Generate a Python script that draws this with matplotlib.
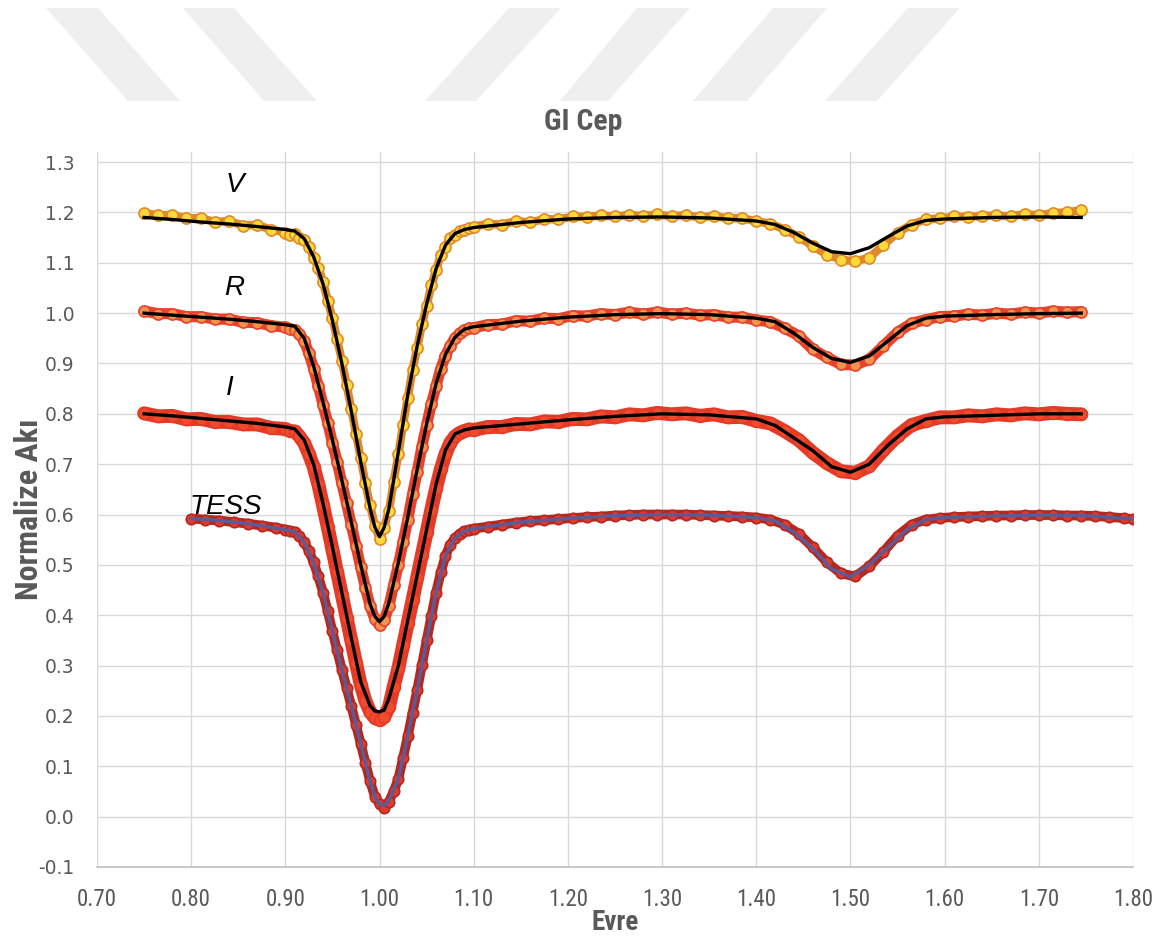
import matplotlib
matplotlib.use("Agg")
import matplotlib.pyplot as plt
from matplotlib import font_manager
from matplotlib.patches import Polygon
import numpy as np

# --- model light curves (V, R, I share one phase grid) ---
model_phase = [0.75, 0.78, 0.81, 0.84, 0.87, 0.90, 0.91, 0.92, 0.93, 0.94, 0.95, 0.96,
               0.97, 0.98, 0.99, 0.995, 1.00, 1.005, 1.01, 1.02, 1.03, 1.04, 1.05, 1.06,
               1.07, 1.08, 1.09, 1.10, 1.15, 1.20, 1.25, 1.30, 1.35, 1.40, 1.42, 1.44,
               1.46, 1.48, 1.50, 1.52, 1.54, 1.56, 1.58, 1.60, 1.65, 1.70, 1.745]
v_model = [1.190, 1.186, 1.181, 1.177, 1.172, 1.166, 1.163, 1.148, 1.112, 1.058, 0.985, 0.900,
           0.805, 0.705, 0.612, 0.575, 0.556, 0.575, 0.612, 0.725, 0.838, 0.935, 1.018, 1.088,
           1.135, 1.158, 1.166, 1.170, 1.180, 1.187, 1.190, 1.191, 1.189, 1.183, 1.176, 1.160,
           1.139, 1.122, 1.118, 1.130, 1.152, 1.173, 1.184, 1.187, 1.190, 1.191, 1.190]
r_model = [1.000, 0.996, 0.992, 0.988, 0.983, 0.977, 0.974, 0.950, 0.895, 0.823, 0.748, 0.668,
           0.585, 0.500, 0.422, 0.398, 0.387, 0.398, 0.425, 0.505, 0.595, 0.690, 0.780, 0.860,
           0.918, 0.952, 0.968, 0.973, 0.984, 0.992, 0.997, 0.999, 0.997, 0.990, 0.983, 0.960,
           0.932, 0.910, 0.902, 0.915, 0.945, 0.975, 0.990, 0.994, 0.997, 0.999, 1.000]
i_model = [0.800, 0.796, 0.791, 0.786, 0.781, 0.774, 0.770, 0.748, 0.700, 0.622, 0.535, 0.445,
           0.355, 0.268, 0.220, 0.210, 0.208, 0.212, 0.235, 0.300, 0.390, 0.480, 0.570, 0.660,
           0.728, 0.760, 0.768, 0.772, 0.780, 0.788, 0.795, 0.800, 0.798, 0.790, 0.777, 0.752,
           0.727, 0.695, 0.684, 0.700, 0.738, 0.770, 0.790, 0.794, 0.797, 0.800, 0.800]

tess_model_phase = [0.80, 0.83, 0.86, 0.89, 0.91, 0.92, 0.93, 0.94, 0.95, 0.96, 0.97, 0.98,
                    0.99, 0.995, 1.00, 1.005, 1.01, 1.02, 1.03, 1.04, 1.05, 1.06, 1.07, 1.08,
                    1.09, 1.10, 1.15, 1.20, 1.25, 1.30, 1.35, 1.40, 1.42, 1.44, 1.46, 1.48,
                    1.50, 1.52, 1.54, 1.56, 1.58, 1.60, 1.65, 1.70, 1.75, 1.80]
tess_model = [0.592, 0.588, 0.582, 0.573, 0.566, 0.545, 0.505, 0.445, 0.368, 0.292, 0.220, 0.145,
              0.070, 0.040, 0.025, 0.022, 0.032, 0.075, 0.160, 0.252, 0.350, 0.445, 0.518, 0.553,
              0.567, 0.572, 0.585, 0.592, 0.598, 0.600, 0.599, 0.594, 0.587, 0.565, 0.533, 0.492,
              0.476, 0.500, 0.535, 0.570, 0.590, 0.594, 0.597, 0.599, 0.598, 0.591]

# --- observations ---
obs_phase = [0.750, 0.765, 0.780, 0.795, 0.810, 0.825, 0.840, 0.855, 0.870, 0.885, 0.900,
             0.905, 0.910, 0.915, 0.920, 0.925, 0.930, 0.935, 0.940, 0.945, 0.950, 0.955,
             0.960, 0.965, 0.970, 0.975, 0.980, 0.985, 0.990, 0.995, 1.000, 1.005, 1.010,
             1.015, 1.020, 1.025, 1.030, 1.035, 1.040, 1.045, 1.050, 1.055, 1.060, 1.065,
             1.070, 1.075, 1.080, 1.085, 1.090, 1.095,
             1.100, 1.115, 1.130, 1.145, 1.160, 1.175, 1.190, 1.205, 1.220, 1.235, 1.250,
             1.265, 1.280, 1.295, 1.310, 1.325, 1.340, 1.355, 1.370, 1.385, 1.400, 1.415,
             1.430, 1.445, 1.460, 1.475, 1.490, 1.505, 1.520, 1.535, 1.550, 1.565, 1.580,
             1.595, 1.610, 1.625, 1.640, 1.655, 1.670, 1.685, 1.700, 1.715, 1.730, 1.745]
v_obs = [1.199, 1.194, 1.195, 1.188, 1.189, 1.181, 1.183, 1.174, 1.175, 1.166, 1.160,
         1.156, 1.158, 1.150, 1.146, 1.132, 1.110, 1.090, 1.062, 1.025, 0.990, 0.948,
         0.905, 0.858, 0.810, 0.760, 0.712, 0.662, 0.618, 0.578, 0.552, 0.574, 0.608,
         0.665, 0.720, 0.778, 0.832, 0.888, 0.930, 0.978, 1.014, 1.055, 1.085, 1.115,
         1.132, 1.150, 1.156, 1.163, 1.166, 1.170,
         1.172, 1.177, 1.176, 1.183, 1.180, 1.187, 1.186, 1.192, 1.191, 1.194, 1.192,
         1.195, 1.193, 1.196, 1.192, 1.195, 1.190, 1.193, 1.188, 1.189, 1.182, 1.178,
         1.166, 1.152, 1.133, 1.116, 1.106, 1.103, 1.110, 1.135, 1.160, 1.176, 1.186,
         1.188, 1.192, 1.191, 1.193, 1.194, 1.192, 1.197, 1.194, 1.199, 1.200, 1.205]
r_obs = [1.004, 0.999, 0.999, 0.993, 0.993, 0.988, 0.988, 0.982, 0.981, 0.975, 0.972,
         0.968, 0.967, 0.958, 0.945, 0.920, 0.890, 0.855, 0.818, 0.782, 0.742, 0.705,
         0.662, 0.622, 0.580, 0.538, 0.495, 0.455, 0.418, 0.392, 0.380, 0.390, 0.418,
         0.460, 0.500, 0.545, 0.590, 0.640, 0.685, 0.735, 0.778, 0.820, 0.855, 0.890,
         0.915, 0.935, 0.950, 0.960, 0.966, 0.970,
         0.971, 0.977, 0.978, 0.985, 0.984, 0.990, 0.989, 0.995, 0.994, 0.999, 0.997,
         1.002, 0.998, 1.002, 0.998, 1.000, 0.996, 0.997, 0.992, 0.992, 0.986, 0.983,
         0.970, 0.955, 0.928, 0.912, 0.898, 0.897, 0.908, 0.935, 0.962, 0.980, 0.987,
         0.993, 0.994, 0.998, 0.996, 1.000, 0.998, 1.002, 1.000, 1.004, 1.002, 1.003]
i_obs = [0.801, 0.795, 0.796, 0.789, 0.790, 0.784, 0.784, 0.779, 0.779, 0.772, 0.770,
         0.766, 0.765, 0.755, 0.742, 0.720, 0.695, 0.660, 0.618, 0.575, 0.530, 0.485,
         0.440, 0.395, 0.350, 0.305, 0.262, 0.230, 0.208, 0.196, 0.192, 0.198, 0.218,
         0.258, 0.295, 0.340, 0.385, 0.430, 0.475, 0.520, 0.565, 0.610, 0.652, 0.690,
         0.720, 0.742, 0.755, 0.762, 0.766, 0.769,
         0.768, 0.774, 0.774, 0.780, 0.779, 0.785, 0.784, 0.790, 0.789, 0.795, 0.793,
         0.799, 0.797, 0.802, 0.799, 0.801, 0.796, 0.799, 0.793, 0.794, 0.786, 0.781,
         0.766, 0.748, 0.723, 0.702, 0.686, 0.683, 0.696, 0.728, 0.756, 0.778, 0.786,
         0.793, 0.793, 0.797, 0.795, 0.799, 0.797, 0.801, 0.799, 0.802, 0.800, 0.799]

tess_obs_phase = [0.800, 0.815, 0.830, 0.845, 0.860, 0.875, 0.890, 0.900,
                  0.905, 0.910, 0.915, 0.920, 0.925, 0.930, 0.935, 0.940, 0.945, 0.950,
                  0.955, 0.960, 0.965, 0.970, 0.975, 0.980, 0.985, 0.990, 0.995, 1.000,
                  1.005, 1.010, 1.015, 1.020, 1.025, 1.030, 1.035, 1.040, 1.045, 1.050,
                  1.055, 1.060, 1.065, 1.070, 1.075, 1.080, 1.085, 1.090, 1.095,
                  1.100, 1.115, 1.130, 1.145, 1.160, 1.175, 1.190, 1.205, 1.220, 1.235,
                  1.250, 1.265, 1.280, 1.295, 1.310, 1.325, 1.340, 1.355, 1.370, 1.385,
                  1.400, 1.415, 1.430, 1.445, 1.460, 1.475, 1.490, 1.505, 1.520, 1.535,
                  1.550, 1.565, 1.580, 1.595, 1.610, 1.625, 1.640, 1.655, 1.670, 1.685,
                  1.700, 1.715, 1.730, 1.745, 1.760, 1.775, 1.790, 1.800]
tess_obs = [0.592, 0.590, 0.588, 0.585, 0.582, 0.578, 0.574, 0.570,
            0.568, 0.566, 0.558, 0.545, 0.528, 0.505, 0.477, 0.445, 0.408, 0.368,
            0.330, 0.292, 0.256, 0.220, 0.182, 0.145, 0.107, 0.070, 0.040, 0.025,
            0.018, 0.030, 0.050, 0.075, 0.117, 0.160, 0.206, 0.252, 0.301, 0.350,
            0.398, 0.445, 0.485, 0.518, 0.540, 0.553, 0.562, 0.567, 0.570,
            0.572, 0.576, 0.580, 0.584, 0.587, 0.589, 0.591, 0.593, 0.595, 0.596,
            0.598, 0.599, 0.600, 0.600, 0.600, 0.600, 0.599, 0.598, 0.597, 0.596,
            0.594, 0.590, 0.580, 0.562, 0.535, 0.505, 0.483, 0.477, 0.497, 0.526,
            0.558, 0.580, 0.590, 0.593, 0.595, 0.596, 0.597, 0.598, 0.598, 0.599,
            0.599, 0.599, 0.598, 0.598, 0.597, 0.595, 0.593, 0.591]

band_labels = ["V", "R", "I", "TESS"]
label_pos = [(0.846, 1.254), (0.846, 1.050), (0.841, 0.851), (0.837, 0.614)]

GRAY = "#595959"

# pick the narrowest sans family that is actually installed
installed = {f.name for f in font_manager.fontManager.ttflist}
NARROW = next((n for n in ["Liberation Sans Narrow", "DejaVu Sans Condensed", "Roboto Condensed",
                           "Open Sans Condensed", "Lato"] if n in installed), "DejaVu Sans")

W, H = 1163, 942
fig = plt.figure(figsize=(W / 100, H / 100), dpi=100)

# faint diagonal watermark stripes across the top
stripes = [
    [(46, 8), (98, 8), (180, 101), (128, 101)],
    [(183, 8), (234, 8), (317, 101), (264, 101)],
    [(509, 8), (561, 8), (476, 101), (425, 101)],
    [(637, 8), (690, 8), (608, 101), (560, 101)],
    [(773, 8), (827, 8), (747, 101), (693, 101)],
    [(908, 8), (960, 8), (877, 101), (825, 101)],
]
for s in stripes:
    pts = [(x / W, 1 - y / H) for x, y in s]
    fig.patches.append(Polygon(pts, closed=True, transform=fig.transFigure,
                               facecolor="#EFEFEF", edgecolor="none", zorder=0))

ax = fig.add_axes([97 / W, 75 / H, (1133 - 97) / W, (867 - 152) / H])
ax.set_xlim(0.70, 1.80)
ax.set_ylim(-0.1, 1.32)

# (phase, flux, fill, edge, band width, marker size, model phase, model flux, model colour)
series = [
    (obs_phase, v_obs, "#FFD83A", "#E0892A", 6, 8.0, model_phase, v_model, "black"),
    (obs_phase, r_obs, "#F2944E", "#E8432C", 8, 8.0, model_phase, r_model, "black"),
    (obs_phase, i_obs, "#EF4B2C", "#E53A26", 10, 8.5, model_phase, i_model, "black"),
    (tess_obs_phase, tess_obs, "#E03A2A", "#B5281F", 7, 7.5, tess_model_phase, tess_model, "#5A5C99"),
]
for k, (px, py, fc, ec, bw, ms, mx, my, lc) in enumerate(series):
    z = 3 + k
    ax.plot(px, py, color=ec, lw=bw, solid_joinstyle="round", solid_capstyle="round", zorder=z)
    ax.plot(px, py, linestyle="none", marker="o", ms=ms, mfc=fc, mec=ec, mew=1.2, zorder=z)
    ax.plot(mx, my, color=lc, lw=2.4, zorder=10)

for name, (lx, ly) in zip(band_labels, label_pos):
    ax.text(lx, ly, name, fontsize=20, style="italic", family="Liberation Sans",
            ha="center", va="center", color="black", zorder=12)

ax.set_xticks(np.round(np.arange(0.70, 1.801, 0.10), 2))
ax.set_yticks(np.round(np.arange(-0.1, 1.301, 0.1), 1))
ax.set_xticklabels([f"{t:.2f}" for t in ax.get_xticks()], family=NARROW, stretch="condensed",
                   fontsize=16.5, color=GRAY)
ax.set_yticklabels([f"{t:.1f}" for t in ax.get_yticks()], family="DejaVu Sans",
                   fontsize=13.5, color=GRAY)
ax.tick_params(length=0)
ax.tick_params(axis="x", pad=15)
ax.tick_params(axis="y", pad=16)
ax.grid(True, color="#D9D9D9", lw=1.0, zorder=0)
ax.set_axisbelow(True)
for side in ["top", "right", "left"]:
    ax.spines[side].set_visible(False)
ax.spines["bottom"].set_color("#BFBFBF")
ax.spines["bottom"].set_linewidth(1.2)

bold = dict(family=NARROW, stretch="condensed", fontweight="bold", color=GRAY,
            ha="center", va="center")
fig.text(583 / W, 1 - 122 / H, "GI Cep", fontsize=21.5, **bold)
fig.text(615 / W, 1 - 922 / H, "Evre", fontsize=19.5, **bold)
fig.text(29 / W, 1 - 509 / H, "Normalize Akı", rotation=90, fontsize=23, **bold)

fig.savefig("out.png", dpi=100)
